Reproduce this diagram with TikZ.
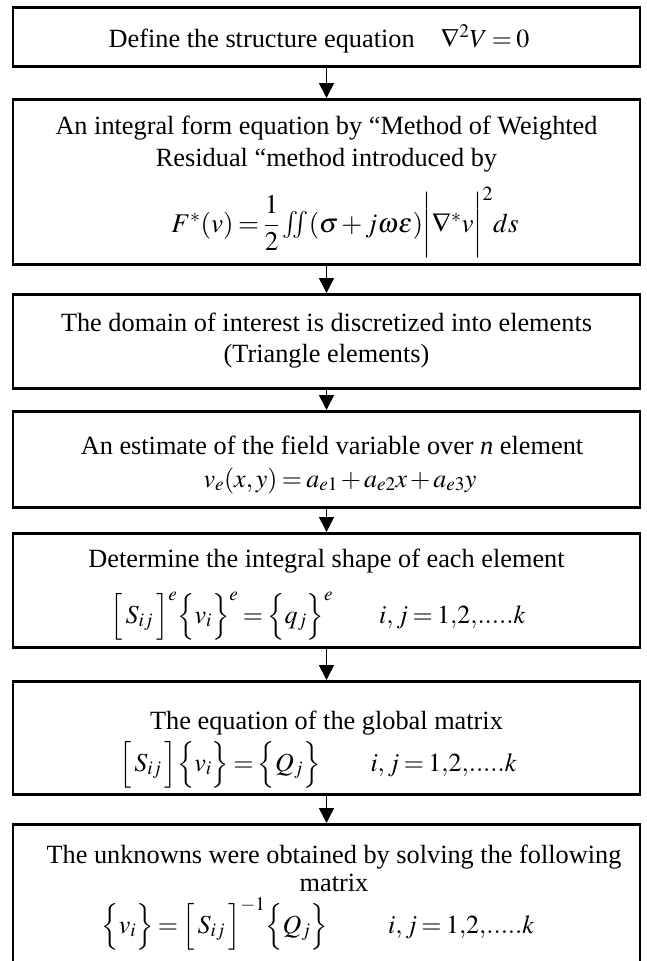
\documentclass[tikz,border=0pt]{standalone}
\usepackage{amsmath}
\usepackage{mathptmx}
\usepackage[no-math]{fontspec}
\setmainfont{Liberation Serif}
\usetikzlibrary{arrows.meta}
\thickmuskip=3mu\relax
\medmuskip=2mu\relax
\tikzset{
  box/.style={draw, line width=2.7pt, minimum width=627pt, inner sep=0pt, anchor=north},
  txt/.style={anchor=base, inner sep=0pt, font=\fontsize{26.3}{32}\selectfont},
  eq/.style={anchor=base, inner sep=0pt, font=\fontsize{26}{32}\selectfont},
  bigeq/.style={anchor=base, inner sep=0pt, font=\fontsize{27}{32}\selectfont},
  flow/.style={line width=1.6pt, -{Triangle[length=15pt,width=15pt]}},
}
\begin{document}
\begin{tikzpicture}[x=1pt,y=-1pt]
\useasboundingbox (0,0) rectangle (646,961);
\clip (0,0) rectangle (646,961);
% boxes
\node[box, minimum height=59pt]  (b1) at (326.5,6) {};
\node[box, minimum height=165pt] (b2) at (326.5,98) {};
\node[box, minimum height=94pt]  (b3) at (326.5,293) {};
\node[box, minimum height=96pt]  (b4) at (326.5,410) {};
\node[box, minimum height=114pt] (b5) at (326.5,532) {};
\node[box, minimum height=113pt] (b6) at (326.5,680) {};
\node[box, minimum height=170pt] (b7) at (326.5,823) {};
% texts
\node[txt] (t1) at (319,47) {Define the structure equation\quad
  {\fontsize{26}{32}\selectfont$\nabla^{2}V=0$}};
\node[txt] (t2a) at (326.5,134) {An integral form equation by ``Method of Weighted};
\node[txt] (t2b) at (326.5,166) {Residual ``method introduced by};
\node[bigeq] (t2c) at (345,232)
  {$F^{*}(v)=\dfrac{1}{2}\iint(\sigma+j\omega\varepsilon)\bigg|\nabla^{*}v\bigg|^{2}ds$};
\node[txt] (t3a) at (326.5,331) {The domain of interest is discretized into elements};
\node[txt] (t3b) at (326.5,362) {(Triangle elements)};
\node[txt] (t4a) at (332,454) {An estimate of the field variable over \textit{n} element};
\node[eq] (t4b) at (340,487) {$v_{e}(x,y)=a_{e1}+a_{e2}x+a_{e3}y$};
\node[txt] (t5a) at (326.5,567) {Determine the integral shape of each element};
\node[eq] (t5b) at (318,623)
  {$\Big[\,S_{ij}\,\Big]^{e}\Big\{v_{i}\Big\}^{e}=\Big\{q_{j}\Big\}^{e}\hspace{46pt}i,j=1{,}2{,}.....k$};
\node[txt] (t6a) at (326.5,729) {The equation of the global matrix};
\node[eq] (t6b) at (318,771)
  {$\Big[\,S_{ij}\,\Big]\Big\{v_{i}\Big\}=\Big\{Q_{j}\Big\}\hspace{50pt}i,j=1{,}2{,}.....k$};
\node[txt] (t7a) at (334,863) {The unknowns were obtained by solving the following};
\node[txt] (t7b) at (334,891) {matrix};
\node[eq] (t7c) at (318,933)
  {$\Big\{v_{i}\Big\}=\Big[\,S_{ij}\,\Big]^{-1}\Big\{Q_{j}\Big\}\hspace{60pt}i,j=1{,}2{,}.....k$};
% connectors
\draw[flow] (b1.south) -- (b2.north);
\draw[flow] (b2.south) -- (b3.north);
\draw[flow] (b3.south) -- (b4.north);
\draw[flow] (b4.south) -- (b5.north);
\draw[flow] (b5.south) -- (b6.north);
\draw[flow] (b6.south) -- (b7.north);
\end{tikzpicture}
\end{document}
